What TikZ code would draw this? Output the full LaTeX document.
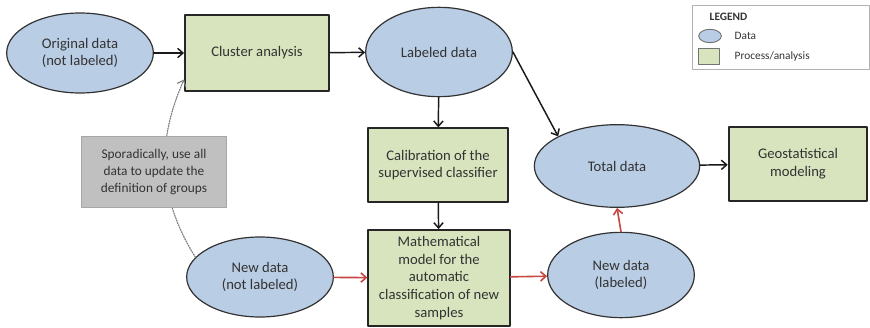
\documentclass[tikz,border=0pt]{standalone}
\usepackage{fontspec}
\setmainfont{Carlito}
\usetikzlibrary{arrows.meta,shapes.geometric}

\definecolor{datablue}{RGB}{185,205,229}
\definecolor{procgreen}{RGB}{215,228,189}
\definecolor{notegrey}{RGB}{192,192,192}
\definecolor{newred}{RGB}{200,70,66}

\begin{document}
\begin{tikzpicture}[x=0.75pt,y=-0.75pt,>={Straight Barb[length=4pt,width=7pt]},
    line cap=round,line join=round,
    every node/.style={font=\fontsize{11}{13.3}\selectfont,text=black!80,align=center},
    data/.style={ellipse,draw=black!80,line width=.9pt,fill=datablue,inner sep=0pt},
    process/.style={rectangle,draw=black!85,line width=1.4pt,fill=procgreen,inner sep=0pt},
    flow/.style={->,line width=1.1pt,draw=black!90},
    newflow/.style={->,line width=1.2pt,draw=newred}]
    \useasboundingbox (0,0) rectangle (870,328);

    % The upper row: original data clustered into labeled data.
    \node[data,minimum width=110pt,minimum height=60pt] (orig) at (80,53) {Original data\\(not labeled)};
    \node[process,minimum width=108pt,minimum height=57pt] (clu) at (257,53) {Cluster analysis};
    \node[data,minimum width=110pt,minimum height=67pt] (lab) at (439,52) {Labeled data};

    % The middle column, down to the classifier model.
    \node[process,minimum width=105pt,minimum height=55pt] (calib) at (438,165) {Calibration of the\\supervised classifier};
    \node[process,minimum width=106pt,minimum height=72pt] (model) at (439,278)
        {Mathematical\\model for the\\automatic\\classification of new\\samples};

    % The new samples, before and after classification.
    \node[data,minimum width=110pt,minimum height=60pt] (newraw) at (260,277) {New data\\(not labeled)};
    \node[data,minimum width=110pt,minimum height=64pt] (newlab) at (621,275) {New data\\(labeled)};

    % Everything merged, then modeled.
    \node[data,minimum width=124pt,minimum height=62pt] (total) at (617,166) {Total data};
    \node[process,minimum width=104pt,minimum height=55pt] (geo) at (798,164) {Geostatistical\\modeling};

    % The occasional feedback loop, passing behind its note.
    \draw[->,densely dotted,line width=.9pt,draw=black!50] (newraw.163) to[out=122,in=246] (clu.200);
    \node[rectangle,draw=black!35,line width=.8pt,fill=notegrey,minimum width=109pt,minimum height=53pt,
        font=\fontsize{10}{12.4}\selectfont] (note) at (154,172)
        {Sporadically, use all\\data to update the\\definition of groups};

    % The black connectors.
    \draw[flow] (orig) -- (clu);
    \draw[flow] (clu) -- (lab);
    \draw[flow] (lab) -- (calib);
    \draw[flow] (calib) -- (model);
    \draw[flow] (lab.east) -- (total.north west);
    \draw[flow] (total) -- (geo);

    % The red connectors, for the new samples.
    \draw[newflow] (newraw) -- (model);
    \draw[newflow] (model) -- (newlab);
    \draw[newflow] (newlab.north) -- (total.south);

    % The legend.
    \draw[draw=black!30,line width=.6pt] (692,5) rectangle (869,69);
    \node[anchor=west,font=\fontsize{8.5}{10}\selectfont\bfseries] (legtitle) at (705,17) {LEGEND};
    \node[data,line width=.7pt,draw=black!55,minimum width=17pt,minimum height=10pt] (legdata) at (710,36) {};
    \node[process,line width=.7pt,draw=black!55,minimum width=16pt,minimum height=12pt] (legproc) at (709,56) {};
    \node[anchor=west,font=\fontsize{8.5}{10}\selectfont] (legdatatext) at (730,36) {Data};
    \node[anchor=west,font=\fontsize{8.5}{10}\selectfont] (legproctext) at (730,56) {Process/analysis};
  \end{tikzpicture}
\end{document}
